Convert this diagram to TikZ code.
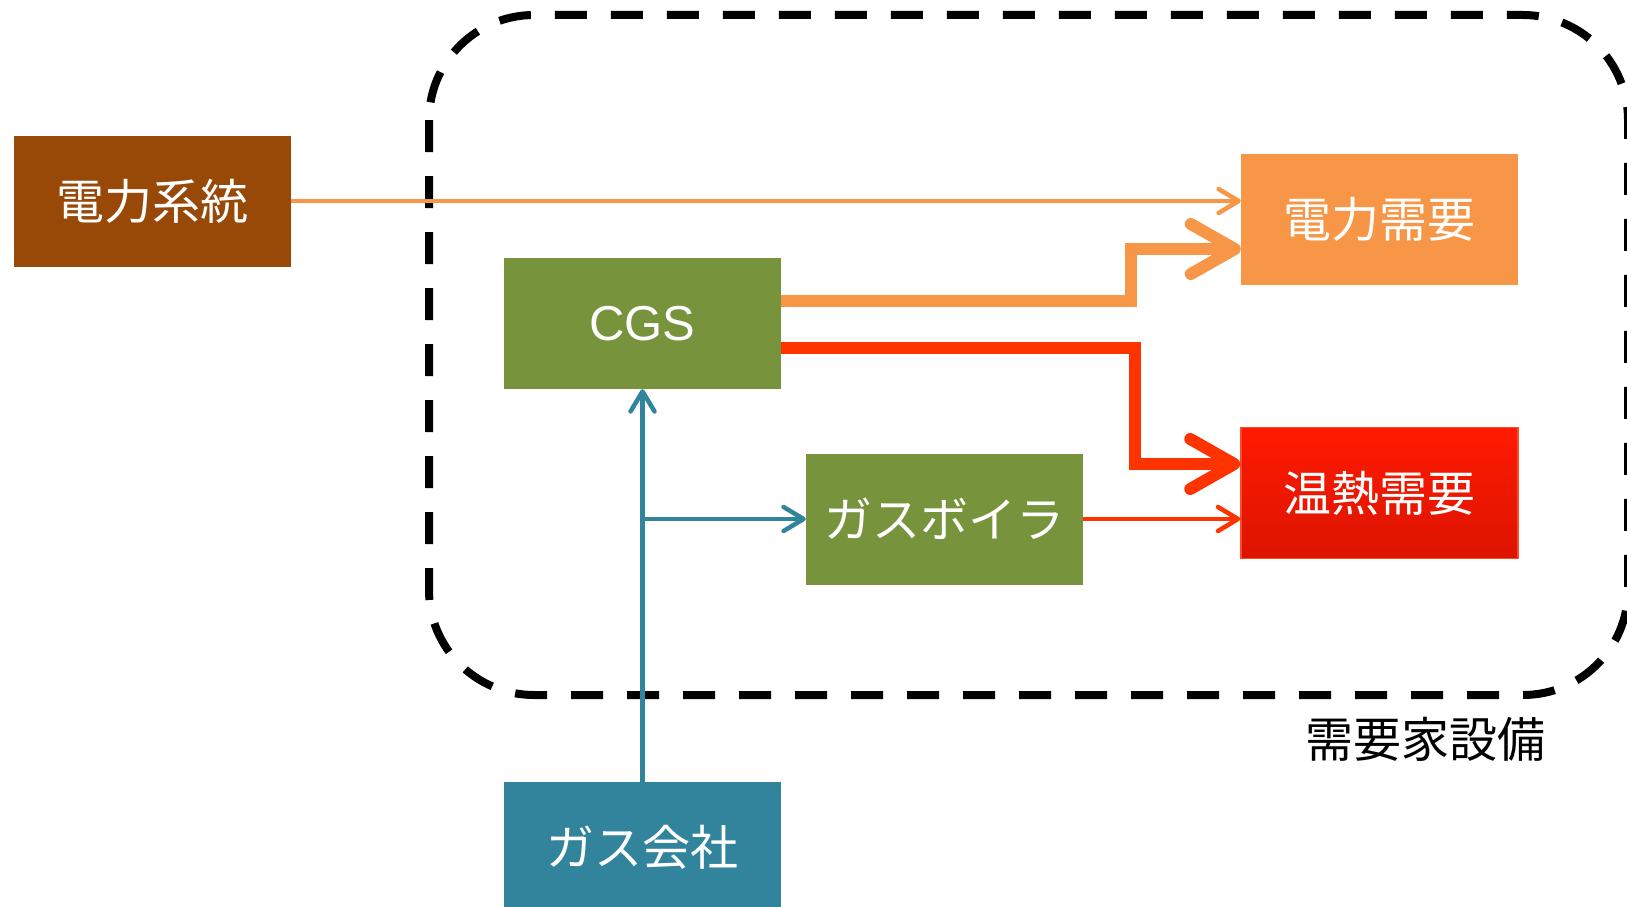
\documentclass[tikz,border=0pt]{standalone}
\usepackage{fontspec}
\setmainfont{Liberation Sans}
\newfontfamily\jp{Noto Sans CJK JP}
\usetikzlibrary{arrows.meta,calc}
\definecolor{cbrown}{HTML}{984807}
\definecolor{corange}{HTML}{F79646}
\definecolor{cgreen}{HTML}{77933C}
\definecolor{cteal}{HTML}{31849B}
\definecolor{credA}{HTML}{FF1A00}
\definecolor{credB}{HTML}{DC1400}
\definecolor{credline}{HTML}{FF3300}
\definecolor{credborder}{HTML}{FF4A2A}
\tikzset{
  box/.style={minimum width=277pt, minimum height=131pt, inner sep=0pt, text=white,
    font=\jp\fontsize{48}{52}\selectfont},
  thinarrow/.style={line width=4.5pt, -{Straight Barb[length=20pt,width=24pt,round]}},
  thickarrow/.style={line width=12pt, -{Straight Barb[length=44pt,width=50pt,round]}},
  boundary/.style={line width=8pt, dash pattern=on 32pt off 24pt, rounded corners=105pt}
}
\begin{document}
\begin{tikzpicture}[x=1pt,y=-1pt]
\useasboundingbox (0,0) rectangle (1627,907);
% boundary of customer facility
\draw[boundary] (429,15) rectangle (1628,695);
% nodes
\node[box, fill=cbrown] (grid) at (152.5,201) {電力系統};
\node[box, fill=corange] (pd) at (1379.5,219.5) {電力需要};
\node[box, top color=credA, bottom color=credB, draw=credborder, line width=1.5pt] (hd) at (1379.5,493) {温熱需要};
\node[box, fill=cgreen, font=\fontsize{49}{53}\selectfont] (cgs) at (642.5,323.5) {CGS};
\node[box, fill=cgreen] (boiler) at (944.5,519) {ガスボイラ};
\node[box, fill=cteal] (gas) at (642.5,847.5) {ガス会社};
\node[font=\jp\fontsize{48}{52}\selectfont, text=black] (lbl) at (1425,739) {需要家設備};
% routing coordinates
\coordinate (ob1) at (1131,301);
\coordinate (ob2) at (1131,249);
\coordinate (hr1) at (1135,348);
\coordinate (hr2) at (1135,464);
% connectors
\draw[thinarrow, draw=corange] (grid.east) -- (grid.east -| pd.west);
\draw[thickarrow, draw=corange] (ob1 -| cgs.east) -- (ob1) -- (ob2) -- (ob2 -| pd.west);
\draw[thickarrow, draw=credline] (hr1 -| cgs.east) -- (hr1) -- (hr2) -- (hr2 -| hd.west);
\draw[thinarrow, draw=credline] (boiler.east) -- (boiler.east -| hd.west);
\draw[thinarrow, draw=cteal] (gas.north) -- (cgs.south);
\draw[thinarrow, draw=cteal] (gas.north |- boiler.west) -- (boiler.west);
\end{tikzpicture}
\end{document}
